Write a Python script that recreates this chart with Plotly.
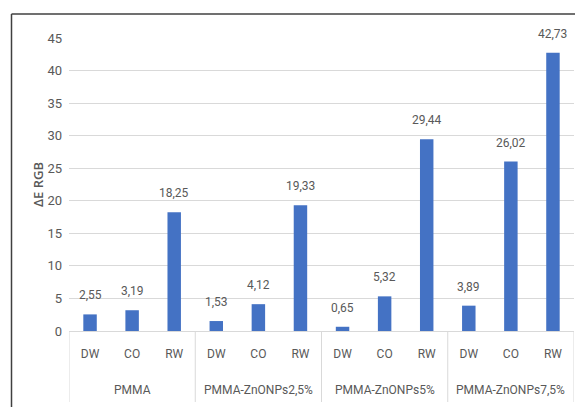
import plotly.graph_objects as go

groups = ["PMMA", "PMMA-ZnONPs2,5%", "PMMA-ZnONPs5%", "PMMA-ZnONPs7,5%"]
subcats = ["DW", "CO", "RW"]
values = [
    [2.55, 3.19, 18.25],
    [1.53, 4.12, 19.33],
    [0.65, 5.32, 29.44],
    [3.89, 26.02, 42.73],
]
y_ticks = [0, 5, 10, 15, 20, 25, 30, 35, 40, 45]

keys, ticktext, yv, txt = [], [], [], []
for g, vals in zip(groups, values):
    for s, v in zip(subcats, vals):
        keys.append(f"{g} {s}")
        ticktext.append(s)
        yv.append(v)
        txt.append(f"{v:.2f}".replace(".", ","))

FONT = "Roboto, Lato, sans-serif"
GRAY = "#595959"
LINE = "#d9d9d9"

fig = go.Figure(go.Bar(
    x=keys, y=yv,
    marker=dict(color="#4472C4", line=dict(width=0)),
))

# page has an 8px body margin, so the figure is drawn 8px smaller and all
# reference pixel positions are shifted by -8
OFF = 8
W, H = 583 - OFF, 407 - OFF
L, R, T, B = 69 - OFF, 9, 38 - OFF, 76
pw, ph = W - L - R, H - T - B

def px_x(px):
    return (px - OFF - L) / pw

def px_y(py):
    return (H - B - (py - OFF)) / ph

shapes = [
    dict(type="line", xref="paper", yref="paper",
         x0=px_x(11.5), x1=px_x(11.5), y0=px_y(14), y1=px_y(420),
         line=dict(color="#404040", width=1.5)),
    dict(type="line", xref="paper", yref="paper",
         x0=px_x(11.5), x1=px_x(600), y0=px_y(14), y1=px_y(14),
         line=dict(color="#404040", width=1.5)),
]
n = len(subcats)
for i in range(len(groups) + 1):
    xb = i * n - 0.5
    shapes.append(dict(type="line", xref="x", yref="paper",
                       x0=xb, x1=xb, y0=0, y1=px_y(402),
                       line=dict(color=LINE, width=1)))

annotations = []
for i, g in enumerate(groups):
    annotations.append(dict(
        x=keys[i * n + 1], xref="x", y=px_y(390), yref="paper",
        text=g, showarrow=False, yanchor="middle",
        font=dict(family=FONT, size=12, color=GRAY),
    ))
# value labels above bars
for k, v, t in zip(keys, yv, txt):
    annotations.append(dict(
        x=k, y=v, xref="x", yref="y", text=t, showarrow=False,
        yanchor="bottom", yshift=10,
        font=dict(family=FONT, size=12, color=GRAY),
    ))

fig.update_layout(
    width=W, height=H,
    margin=dict(l=L, r=R, t=T, b=B),
    paper_bgcolor="white", plot_bgcolor="white",
    bargap=0.68, showlegend=False,
    font=dict(family=FONT, color=GRAY, size=12),
    xaxis=dict(
        type="category", range=[-0.5, len(keys) - 0.5],
        tickvals=keys, ticktext=ticktext,
        showline=True, linecolor=LINE, linewidth=1,
        showgrid=False, ticks="", ticklabelstandoff=12,
        tickfont=dict(family=FONT, size=12, color=GRAY),
    ),
    yaxis=dict(
        range=[0, 45], tickvals=y_ticks,
        showgrid=True, gridcolor=LINE, gridwidth=1,
        zeroline=False, showline=False, ticklabelstandoff=6,
        tickfont=dict(family=FONT, size=13, color=GRAY),
        title=dict(text="ΔE RGB",
                   font=dict(family="Open Sans, DejaVu Sans, sans-serif", size=13, color=GRAY, weight=600),
                   standoff=0),
    ),
    shapes=shapes,
    annotations=annotations,
)

fig.write_html("out.html")
